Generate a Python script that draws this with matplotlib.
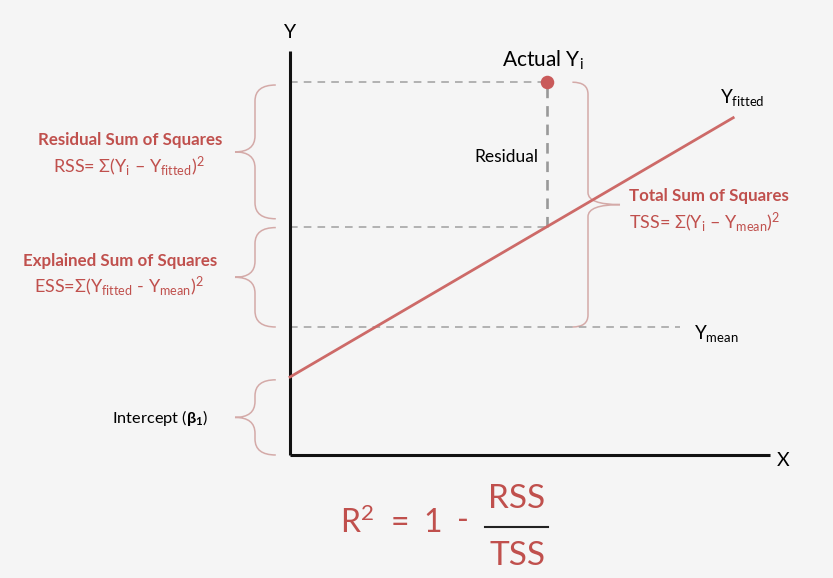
import numpy as np
import matplotlib
matplotlib.use('Agg')
import matplotlib.pyplot as plt
from matplotlib.path import Path
from matplotlib.patches import PathPatch

# diagram values (arbitrary units, origin where the axes meet)
x_max = 12.0
y_max = 10.1
intercept = 1.95
slope = 0.585
x_fit = [0.0, 11.08]
x_i, y_i = 6.42, 9.32
y_mean = 3.2
x_mean_end = 9.75

RED = '#c0504d'
LINE_RED = '#cd6a68'
BRACE = '#d4aaa8'
DASH = '#a0a0a0'
BG = '#f5f5f5'

plt.rcParams['font.family'] = ['Lato', 'DejaVu Sans']
plt.rcParams['mathtext.fontset'] = 'custom'
plt.rcParams['mathtext.rm'] = 'Lato'
plt.rcParams['mathtext.it'] = 'Lato:italic'
plt.rcParams['mathtext.bf'] = 'Lato:bold'

W, H = 833, 578
fig = plt.figure(figsize=(W / 100, H / 100), dpi=100, facecolor=BG)
ax = fig.add_axes([0, 0, 1, 1])
ax.set_facecolor(BG)
# 40 px per unit on both axes, origin at pixel (290, 455)
ax.set_xlim(-290 / 40, (W - 290) / 40)
ax.set_ylim((455 - H) / 40, 455 / 40)
ax.axis('off')


def fpos(x, y):
    return x / W, 1 - y / H


def brace(x, y0, y1, side, c=0.4, t=0.5):
    # vertical curly brace, tip pointing to `side` (-1 left, +1 right)
    ym = (y0 + y1) / 2
    e = -side * c * 1.3
    verts = [(x + e, y1), (x, y1), (x, y1 - c),
             (x, ym + c), (x, ym), (x + side * t, ym),
             (x, ym), (x, ym - c),
             (x, y0 + c), (x, y0), (x + e, y0)]
    codes = [Path.MOVETO, Path.CURVE3, Path.CURVE3,
             Path.LINETO, Path.CURVE3, Path.CURVE3,
             Path.CURVE3, Path.CURVE3,
             Path.LINETO, Path.CURVE3, Path.CURVE3]
    ax.add_patch(PathPatch(Path(verts, codes), fc='none', ec=BRACE, lw=1.1))


y_fit = intercept + slope * np.array(x_fit)
y_fit_i = intercept + slope * x_i

# dashed guides
dash = (0, (5, 4))
ax.plot([0, x_i], [y_i, y_i], ls=dash, color=DASH, lw=1.1)
ax.plot([0, x_i], [y_fit_i, y_fit_i], ls=dash, color=DASH, lw=1.1)
ax.plot([0, x_mean_end], [y_mean, y_mean], ls=dash, color=DASH, lw=1.1)
ax.plot([x_i, x_i], [y_fit_i, y_i], ls=(0, (4, 3)), color='#999999', lw=1.9)

# axes
ax.plot([0, 0], [0, y_max], color='#111111', lw=2.2, solid_capstyle='butt')
ax.plot([0, x_max], [0, 0], color='#111111', lw=2.2, solid_capstyle='butt')

# fitted line and actual point
ax.plot(x_fit, y_fit, color=LINE_RED, lw=2)
ax.scatter([x_i], [y_i], s=95, color='#c95a5a', zorder=5, lw=0)

# braces
brace(-0.875, y_fit_i + 0.2, y_i - 0.07, -1)
brace(-0.875, y_mean, y_fit_i - 0.02, -1)
brace(-0.875, 0, intercept - 0.07, -1)
brace(7.45, y_mean, y_i, 1, c=0.3, t=0.8)

# labels
fig.text(*fpos(290, 32), 'Y', fontsize=14, ha='center', va='center')
fig.text(*fpos(783, 460), 'X', fontsize=14, ha='center', va='center')
fig.text(*fpos(543, 60), r'Actual Y$_\mathrm{i}$', fontsize=15, ha='center', va='center')
fig.text(*fpos(742, 97), r'Y$_\mathrm{fitted}$', fontsize=13.5, ha='center', va='center')
fig.text(*fpos(716, 333), r'Y$_\mathrm{mean}$', fontsize=13.5, ha='center', va='center')
fig.text(*fpos(506, 157), 'Residual', fontsize=12.5, ha='center', va='center')

fig.text(*fpos(130, 140), 'Residual Sum of Squares', fontsize=12.2, weight='bold',
         color=RED, ha='center', va='center')
fig.text(*fpos(129, 166), r'RSS= Σ(Y$_\mathrm{i}$ – Y$_\mathrm{fitted}$)$^2$',
         fontsize=13, color=RED, ha='center', va='center')
fig.text(*fpos(120, 261), 'Explained Sum of Squares', fontsize=12.2, weight='bold',
         color=RED, ha='center', va='center')
fig.text(*fpos(119, 286), r'ESS=Σ(Y$_\mathrm{fitted}$ - Y$_\mathrm{mean}$)$^2$',
         fontsize=13, color=RED, ha='center', va='center')
fig.text(*fpos(709, 196), 'Total Sum of Squares', fontsize=12.2, weight='bold',
         color=RED, ha='center', va='center')
fig.text(*fpos(705, 222), r'TSS= Σ(Y$_\mathrm{i}$ – Y$_\mathrm{mean}$)$^2$',
         fontsize=13, color=RED, ha='center', va='center')
fig.text(*fpos(160, 418), r'Intercept ($\mathbf{\beta_1}$)', fontsize=11.8,
         ha='center', va='center')

# R squared formula
fig.text(*fpos(357, 523), r'R$^2$', fontsize=23, color=RED, ha='center', va='center')
fig.text(*fpos(400, 523), '=', fontsize=23, color=RED, ha='center', va='center')
fig.text(*fpos(433, 523), '1', fontsize=23, color=RED, ha='center', va='center')
fig.text(*fpos(463, 521), '-', fontsize=23, color=RED, ha='center', va='center')
fig.text(*fpos(517, 499), 'RSS', fontsize=24, color=RED, ha='center', va='center')
fig.text(*fpos(517, 556), 'TSS', fontsize=24, color=RED, ha='center', va='center')
fig.add_artist(plt.Line2D([485 / W, 548 / W], [1 - 527 / H, 1 - 527 / H],
                          color='#222222', lw=1.5))

fig.savefig('out.png', dpi=100, facecolor=BG)
